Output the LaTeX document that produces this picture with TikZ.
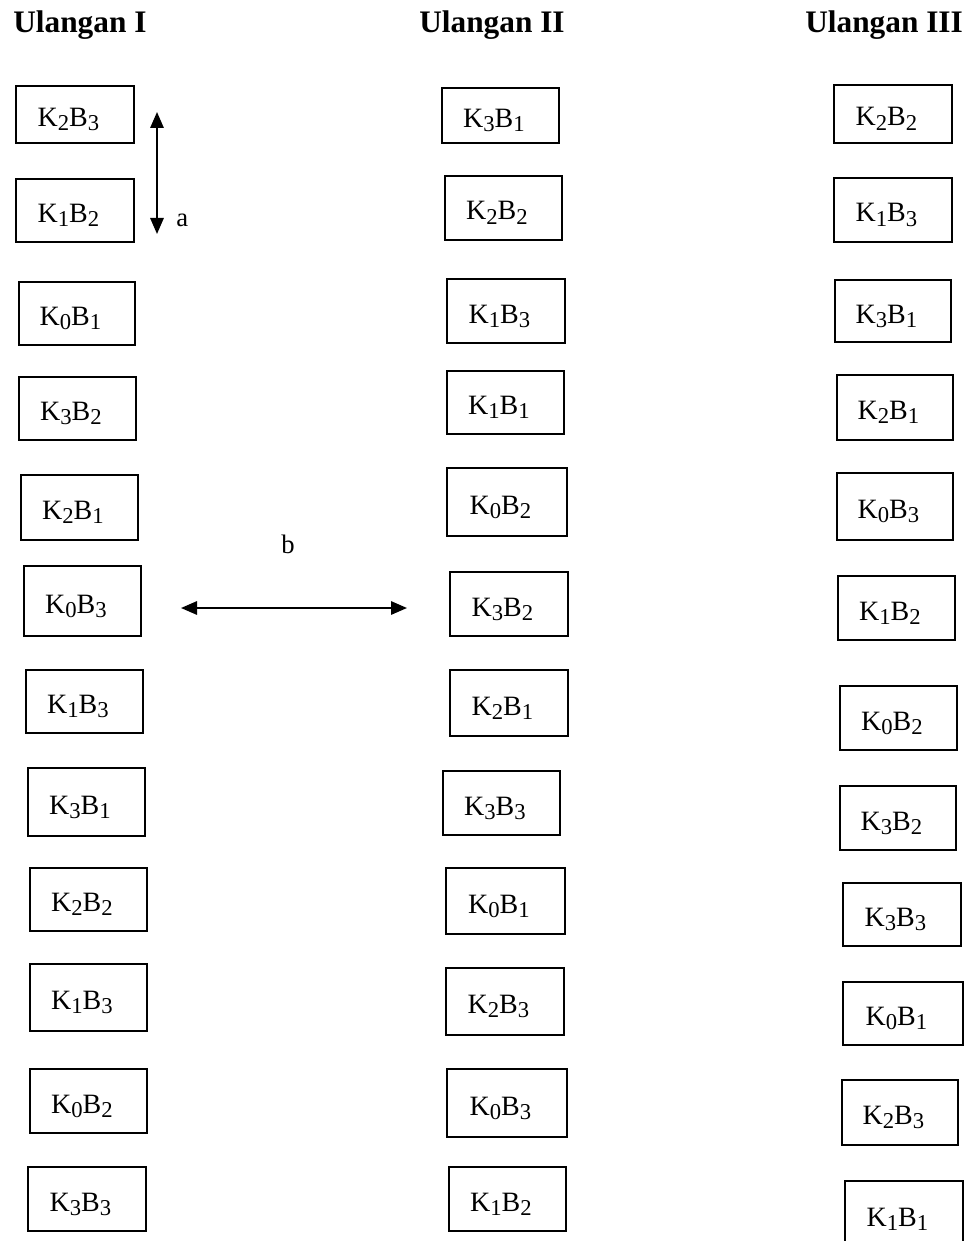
\documentclass[tikz,border=0pt]{standalone}
\usepackage{fontspec}
\setmainfont{Liberation Serif}
\usetikzlibrary{arrows.meta}

% treatment label K_iB_j
\newcommand\kbsub[1]{\raisebox{-0.16em}{\fontsize{17}{17}\selectfont #1}}
\newcommand\kb[2]{K\kbsub{#1}B\kbsub{#2}\hspace*{10pt}}

% plot box given by its left, top, right and bottom edges
\newcommand\plotbox[7]{%
  \node[plotbox, minimum width={(#4-#2)*0.75pt}, minimum height={(#5-#3)*0.75pt}]
    (#1) at ({(#2+#4)/2},{(#3+#5)/2}) {\kb{#6}{#7}};}

\begin{document}
\begin{tikzpicture}[x=0.75pt,y=-0.75pt,
  plotbox/.style={draw=black, line width=0.9pt, inner sep=0pt,
    font=\fontsize{21}{21}\selectfont, text height=18pt, text depth=0pt},
  head/.style={font=\fontsize{23.5}{23.5}\selectfont\bfseries, inner sep=0pt, anchor=base west},
  lbl/.style={font=\fontsize{20}{20}\selectfont, inner sep=0pt},
  dimarrow/.style={line width=1.5pt, {Triangle[length=12pt,width=10pt]}-{Triangle[length=12pt,width=10pt]}}]

\useasboundingbox (0,0) rectangle (970,1241);

% column headings
\node[head] (h1) at (13,33) {Ulangan I};
\node[head] (h2) at (419,33) {Ulangan II};
\node[head] (h3) at (805,33) {Ulangan III};

% replicate I
\plotbox{a1}{16}{86}{134}{143}{2}{3}
\plotbox{a2}{16}{179}{134}{242}{1}{2}
\plotbox{a3}{19}{282}{135}{345}{0}{1}
\plotbox{a4}{19}{377}{136}{440}{3}{2}
\plotbox{a5}{21}{475}{138}{540}{2}{1}
\plotbox{a6}{24}{566}{141}{636}{0}{3}
\plotbox{a7}{26}{670}{143}{733}{1}{3}
\plotbox{a8}{28}{768}{145}{836}{3}{1}
\plotbox{a9}{30}{868}{147}{931}{2}{2}
\plotbox{a10}{30}{964}{147}{1031}{1}{3}
\plotbox{a11}{30}{1069}{147}{1133}{0}{2}
\plotbox{a12}{28}{1167}{146}{1231}{3}{3}

% replicate II
\plotbox{b1}{442}{88}{559}{143}{3}{1}
\plotbox{b2}{445}{176}{562}{240}{2}{2}
\plotbox{b3}{447}{279}{565}{343}{1}{3}
\plotbox{b4}{447}{371}{564}{434}{1}{1}
\plotbox{b5}{447}{468}{567}{536}{0}{2}
\plotbox{b6}{450}{572}{568}{636}{3}{2}
\plotbox{b7}{450}{670}{568}{736}{2}{1}
\plotbox{b8}{443}{771}{560}{835}{3}{3}
\plotbox{b9}{446}{868}{565}{934}{0}{1}
\plotbox{b10}{446}{968}{564}{1035}{2}{3}
\plotbox{b11}{447}{1069}{567}{1137}{0}{3}
\plotbox{b12}{449}{1167}{566}{1231}{1}{2}

% replicate III
\plotbox{c1}{834}{85}{952}{143}{2}{2}
\plotbox{c2}{834}{178}{952}{242}{1}{3}
\plotbox{c3}{835}{280}{951}{342}{3}{1}
\plotbox{c4}{837}{375}{953}{440}{2}{1}
\plotbox{c5}{837}{473}{953}{540}{0}{3}
\plotbox{c6}{838}{576}{955}{640}{1}{2}
\plotbox{c7}{840}{686}{957}{750}{0}{2}
\plotbox{c8}{840}{786}{956}{850}{3}{2}
\plotbox{c9}{843}{883}{961}{946}{3}{3}
\plotbox{c10}{843}{982}{963}{1045}{0}{1}
\plotbox{c11}{842}{1080}{958}{1145}{2}{3}
\plotbox{c12}{845}{1181}{963}{1247}{1}{1}

% spacing within a column (a)
\coordinate (aTop) at (157,112);
\coordinate (aBot) at (157,234);
\draw[dimarrow] (aTop) -- (aBot);
\node[lbl, anchor=base west] (la) at (176,227) {a};

% spacing between columns (b)
\coordinate (bL) at (181,608);
\coordinate (bR) at (407,608);
\draw[dimarrow] (bL) -- (bR);
\node[lbl, anchor=base] (lb) at (288,553) {b};

\end{tikzpicture}
\end{document}
